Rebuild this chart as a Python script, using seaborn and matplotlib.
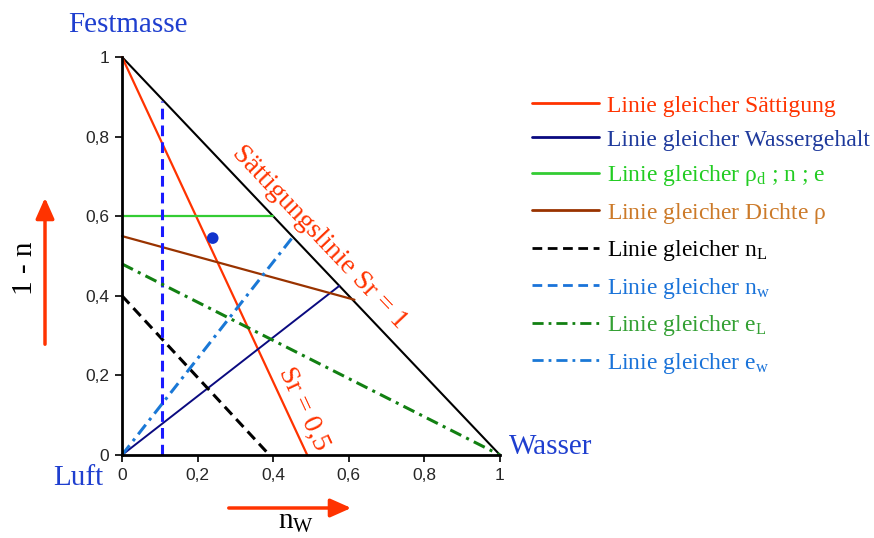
import matplotlib
matplotlib.use("Agg")
import matplotlib.pyplot as plt
import seaborn as sns

# Linien im Dreiecksdiagramm (x = n_w, y = 1 - n)
x_grenze = [0, 1]
y_grenze = [1, 0]

x_saettigung = [0, 0.49]
y_saettigung = [1, 0]
x_wassergehalt = [0, 0.575]
y_wassergehalt = [0, 0.425]
x_rho_d = [0, 0.40]
y_rho_d = [0.60, 0.60]
x_dichte = [0, 0.615]
y_dichte = [0.55, 0.39]
x_nL = [0, 0.39]
y_nL = [0.40, 0]
x_nw = [0.107, 0.107]
y_nw = [0, 0.89]
x_eL = [0, 1]
y_eL = [0.48, 0]
x_ew = [0, 0.452]
y_ew = [0, 0.548]

punkt_x = [0.24]
punkt_y = [0.545]

ticks = [0, 0.2, 0.4, 0.6, 0.8, 1]
tick_labels = ["0", "0,2", "0,4", "0,6", "0,8", "1"]

labels = [
    "Linie gleicher Sättigung",
    "Linie gleicher Wassergehalt",
    r"Linie gleicher $\rho_\mathrm{d}$ ; n ; e",
    r"Linie gleicher Dichte $\rho$",
    r"Linie gleicher n$_\mathrm{L}$",
    r"Linie gleicher n$_\mathrm{w}$",
    r"Linie gleicher e$_\mathrm{L}$",
    r"Linie gleicher e$_\mathrm{w}$",
]
label_colors = ["#ff3300", "#1f3a9c", "#22cc22", "#cc7a29",
                "black", "#1a73d9", "#33a033", "#1a73d9"]

sns.set_style("white")
plt.rcParams["font.family"] = ["Liberation Serif", "DejaVu Serif"]
plt.rcParams["mathtext.fontset"] = "custom"
plt.rcParams["mathtext.rm"] = "Liberation Serif"
plt.rcParams["mathtext.it"] = "Liberation Serif"
plt.rcParams["mathtext.bf"] = "Liberation Serif"

W, H = 874, 538
fig = plt.figure(figsize=(W / 100, H / 100), dpi=100)
ax = fig.add_axes([122 / W, 1 - 455 / H, 378 / W, 398 / H])

linie = dict(ax=ax, estimator=None, sort=False)
sns.lineplot(x=x_grenze, y=y_grenze, color="black", linewidth=1.5, **linie)
sns.lineplot(x=x_saettigung, y=y_saettigung, color="#ff3300", linewidth=1.6, label=labels[0], **linie)
sns.lineplot(x=x_wassergehalt, y=y_wassergehalt, color="#0a0a80", linewidth=1.4, label=labels[1], **linie)
sns.lineplot(x=x_rho_d, y=y_rho_d, color="#33cc33", linewidth=1.6, label=labels[2], **linie)
sns.lineplot(x=x_dichte, y=y_dichte, color="#993300", linewidth=1.6, label=labels[3], **linie)
sns.lineplot(x=x_nL, y=y_nL, color="black", linewidth=2.2, linestyle=(0, (3.5, 2)), label=labels[4], **linie)
sns.lineplot(x=x_nw, y=y_nw, color="#1a1aff", linewidth=2.2, linestyle=(0, (3.5, 2)), label=labels[5], **linie)
sns.lineplot(x=x_eL, y=y_eL, color="#128012", linewidth=2.2, linestyle=(0, (4, 1.8, 1, 1.8)), label=labels[6], **linie)
sns.lineplot(x=x_ew, y=y_ew, color="#1a78d6", linewidth=2.2, linestyle=(0, (4, 1.8, 1, 1.8)), label=labels[7], **linie)
sns.scatterplot(x=punkt_x, y=punkt_y, ax=ax, color="#1133cc", s=70, edgecolor="none", zorder=5)

for ln in ax.get_lines():
    ln.set_clip_on(False)

handles, _ = ax.get_legend_handles_labels()
ax.get_legend().remove()

ax.set_xlim(0, 1)
ax.set_ylim(0, 1)
ax.set_xticks(ticks)
ax.set_yticks(ticks)
ax.set_xticklabels(tick_labels, family="Liberation Sans", fontsize=12.5)
ax.set_yticklabels(tick_labels, family="Liberation Sans", fontsize=12.5)
ax.tick_params(direction="out", length=5, width=1.2, color="black", pad=4,
               bottom=True, left=True)
for side in ["top", "right"]:
    ax.spines[side].set_visible(False)
for side in ["left", "bottom"]:
    ax.spines[side].set_color("black")
    ax.spines[side].set_linewidth(2)
ax.set_facecolor("none")
ax.set_xlabel("")
ax.set_ylabel("")

# Beschriftungen an den Linien
ax.text(0.523, 0.548, "Sättigungslinie Sr = 1", color="#ff3300", fontsize=20,
        rotation=-46.5, ha="center", va="center", rotation_mode="anchor")
ax.text(0.48, 0.115, "Sr = 0,5", color="#ff3300", fontsize=20,
        rotation=-65, ha="center", va="center", rotation_mode="anchor")

# Eckbeschriftungen
blau = "#1f3fcf"
fig.text(128 / W, 1 - 25 / H, "Festmasse", color=blau, fontsize=21, ha="center", va="center")
fig.text(78 / W, 1 - 478 / H, "Luft", color=blau, fontsize=21, ha="center", va="center")
fig.text(551 / W, 1 - 447 / H, "Wasser", color=blau, fontsize=21, ha="center", va="center")
fig.text(25 / W, 1 - 268 / H, "1 - n", color="black", fontsize=21, rotation=90, ha="center", va="center")
fig.text(296 / W, 1 - 522 / H, r"n$_\mathrm{W}$", color="black", fontsize=21, ha="center", va="center")

# Pfeile
pfeil = dict(arrowstyle="-|>,head_length=0.9,head_width=0.4", color="#ff3300", lw=2.5)
fig.add_artist(matplotlib.patches.FancyArrowPatch(
    (45 / W, 1 - 347 / H), (45 / W, 1 - 195 / H), transform=fig.transFigure,
    mutation_scale=14, **pfeil))
fig.add_artist(matplotlib.patches.FancyArrowPatch(
    (226 / W, 1 - 508 / H), (354 / W, 1 - 508 / H), transform=fig.transFigure,
    mutation_scale=14, **pfeil))

leg = fig.legend(handles, labels, loc="upper left", bbox_to_anchor=(532 / W, 1 - 95 / H),
                 frameon=False, fontsize=17, handlelength=2.85, handletextpad=0.34,
                 labelspacing=0.53, borderpad=0, borderaxespad=0)
for txt, c in zip(leg.get_texts(), label_colors):
    txt.set_color(c)
for h in leg.legend_handles:
    h.set_linewidth(2)
leg.legend_handles[5].set_color("#1a73d9")

fig.savefig("out.png", dpi=100)
